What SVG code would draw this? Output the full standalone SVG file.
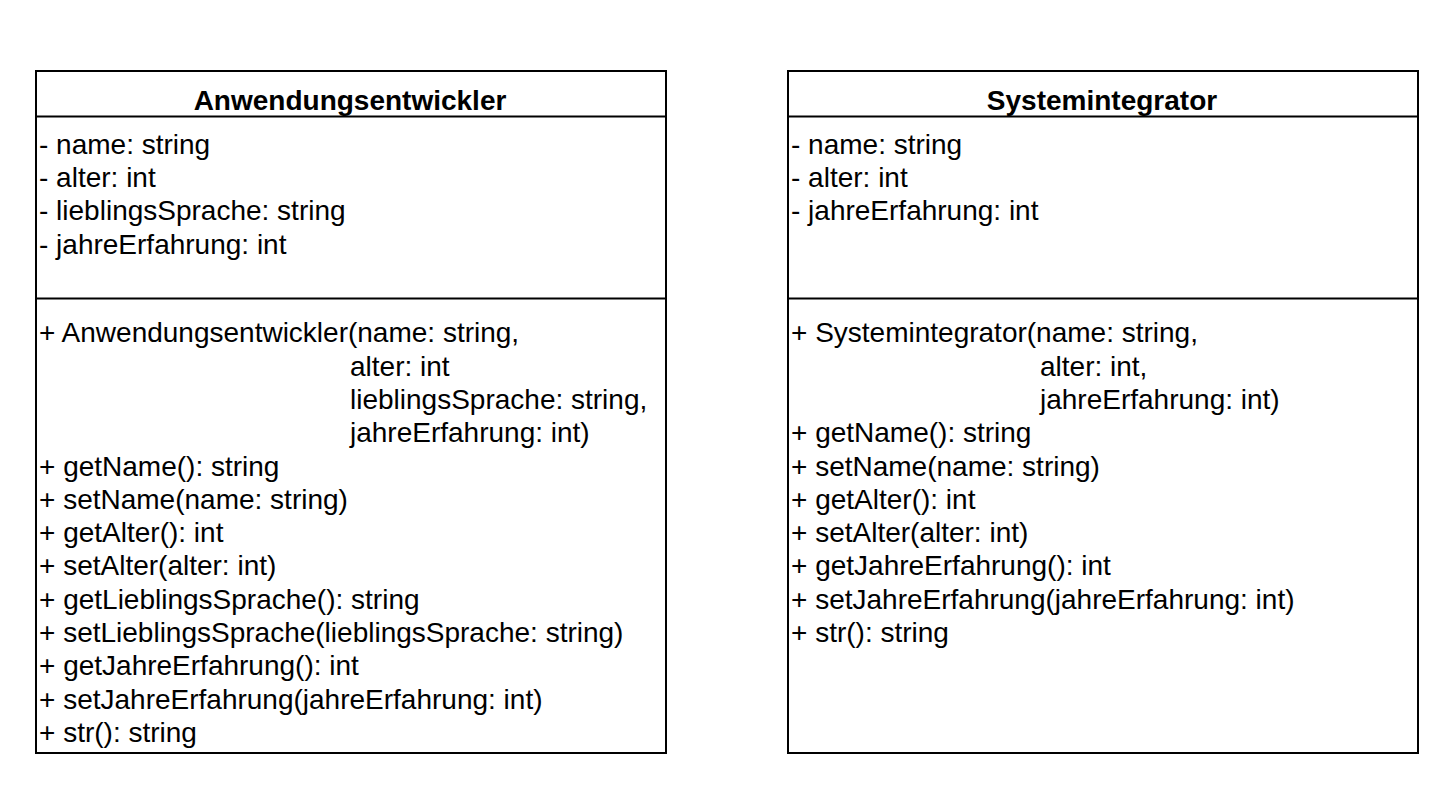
<svg xmlns="http://www.w3.org/2000/svg" width="1453" height="804" viewBox="0 0 1453 804">
<style>
.box{fill:#fff;stroke:#000;stroke-width:2}
.ln{stroke:#000;stroke-width:2}
.t{font-family:"Liberation Sans",Arial,sans-serif;font-size:28px;fill:#000}
.h{font-family:"Liberation Sans",Arial,sans-serif;font-size:28px;font-weight:bold;fill:#000;text-anchor:middle}
</style>
<rect width="1453" height="804" fill="#fff"/>
<g id="anwendungsentwickler">
<rect class="box" x="36" y="71" width="630" height="682"/>
<line class="ln" x1="36" y1="116.5" x2="666" y2="116.5"/>
<line class="ln" x1="36" y1="298.5" x2="666" y2="298.5"/>
<text class="h" x="350" y="109.5">Anwendungsentwickler</text>
<text class="t" x="39" y="153.5">- name: string</text>
<text class="t" x="39" y="186.8">- alter: int</text>
<text class="t" x="39" y="220.1">- lieblingsSprache: string</text>
<text class="t" x="39" y="253.5">- jahreErfahrung: int</text>
<text class="t" x="39" y="342.3">+ Anwendungsentwickler(name: string,</text>
<text class="t" x="350" y="375.6">alter: int</text>
<text class="t" x="350" y="408.9">lieblingsSprache: string,</text>
<text class="t" x="350" y="442.2">jahreErfahrung: int)</text>
<text class="t" x="39" y="475.5">+ getName(): string</text>
<text class="t" x="39" y="508.8">+ setName(name: string)</text>
<text class="t" x="39" y="542.1">+ getAlter(): int</text>
<text class="t" x="39" y="575.4">+ setAlter(alter: int)</text>
<text class="t" x="39" y="608.7">+ getLieblingsSprache(): string</text>
<text class="t" x="39" y="642">+ setLieblingsSprache(lieblingsSprache: string)</text>
<text class="t" x="39" y="675.3">+ getJahreErfahrung(): int</text>
<text class="t" x="39" y="708.6">+ setJahreErfahrung(jahreErfahrung: int)</text>
<text class="t" x="39" y="741.9">+ str(): string</text>
</g>
<g id="systemintegrator">
<rect class="box" x="788" y="71" width="630" height="682"/>
<line class="ln" x1="788" y1="116.5" x2="1418" y2="116.5"/>
<line class="ln" x1="788" y1="298.5" x2="1418" y2="298.5"/>
<text class="h" x="1102" y="109.5">Systemintegrator</text>
<text class="t" x="791" y="153.5">- name: string</text>
<text class="t" x="791" y="186.8">- alter: int</text>
<text class="t" x="791" y="220.1">- jahreErfahrung: int</text>
<text class="t" x="791" y="342.3">+ Systemintegrator(name: string,</text>
<text class="t" x="1040" y="375.6">alter: int,</text>
<text class="t" x="1040" y="408.9">jahreErfahrung: int)</text>
<text class="t" x="791" y="442.2">+ getName(): string</text>
<text class="t" x="791" y="475.5">+ setName(name: string)</text>
<text class="t" x="791" y="508.8">+ getAlter(): int</text>
<text class="t" x="791" y="542.1">+ setAlter(alter: int)</text>
<text class="t" x="791" y="575.4">+ getJahreErfahrung(): int</text>
<text class="t" x="791" y="608.7">+ setJahreErfahrung(jahreErfahrung: int)</text>
<text class="t" x="791" y="642">+ str(): string</text>
</g>
<g id="connectors"></g>
</svg>
